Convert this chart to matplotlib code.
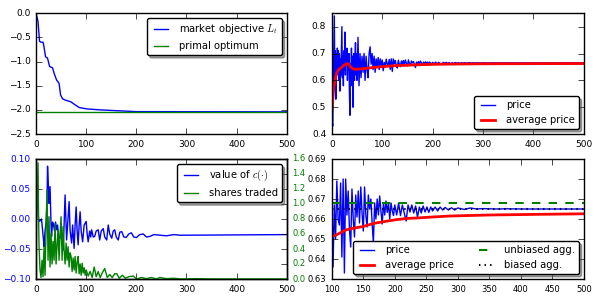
import matplotlib
matplotlib.use("Agg")
import matplotlib.pyplot as plt

plt.style.use("classic")
plt.rcParams["font.size"] = 7
plt.rcParams["xtick.labelsize"] = 6.5
plt.rcParams["ytick.labelsize"] = 6.5
plt.rcParams["legend.fontsize"] = 7.2

# market objective L_t (top left)
obj_t = [0, 1, 4, 7, 10, 14, 16, 19, 23, 27, 33, 36, 41, 46, 49, 53, 59, 69,
         76, 86, 102, 129, 169, 200, 500]
obj_v = [0.0, -0.035, -0.17, -0.58, -0.6, -0.6, -0.7, -0.9, -0.93, -1.10,
         -1.13, -1.24, -1.38, -1.45, -1.69, -1.77, -1.80, -1.83, -1.88, -1.95,
         -1.98, -2.0, -2.02, -2.035, -2.04]
primal_opt = -2.04

# price path (top right, bottom right)
price_t = list(range(0, 50)) + list(range(50, 202, 2)) + \
    [203, 206, 209, 212, 215, 218, 221, 224, 227, 230, 233, 236, 239, 242,
     245, 248, 251, 254, 257, 260, 264, 268, 272, 276, 280, 285, 290, 295,
     300, 310, 320, 330, 340, 360, 380, 400, 450, 500]
price_v = [
    0.56, 0.44, 0.43, 0.62, 0.72, 0.84, 0.60, 0.71, 0.53, 0.70,
    0.62, 0.72, 0.66, 0.71, 0.60, 0.70, 0.56, 0.68, 0.62, 0.72,
    0.80, 0.61, 0.69, 0.58, 0.71, 0.64, 0.78, 0.62, 0.70, 0.66,
    0.72, 0.60, 0.68, 0.64, 0.70, 0.55, 0.47, 0.66, 0.62, 0.72,
    0.58, 0.69, 0.50, 0.64, 0.70, 0.60, 0.68, 0.74, 0.62, 0.70,
    # 50..98 step 2
    0.60, 0.76, 0.58, 0.70, 0.61, 0.69, 0.63, 0.70, 0.60, 0.69,
    0.64, 0.61, 0.70, 0.725, 0.66, 0.70, 0.64, 0.69, 0.63, 0.68,
    0.65, 0.685, 0.64, 0.68, 0.655,
    # 100..200 step 2
    0.676, 0.636, 0.667, 0.650, 0.679, 0.660, 0.657, 0.678, 0.641, 0.680,
    0.633, 0.680, 0.662, 0.674, 0.655, 0.646, 0.675, 0.660, 0.651, 0.672,
    0.661, 0.674, 0.658, 0.676, 0.663, 0.654, 0.676, 0.662, 0.656, 0.672,
    0.665, 0.670, 0.658, 0.648, 0.668, 0.660, 0.670, 0.662, 0.6715, 0.664,
    0.6575, 0.668, 0.662, 0.669, 0.6633, 0.668, 0.660, 0.668, 0.664, 0.6617,
    0.667,
    # 203..500
    0.662, 0.668, 0.6617, 0.667, 0.663, 0.659, 0.667, 0.6635, 0.667, 0.663,
    0.6665, 0.661, 0.666, 0.663, 0.6665, 0.6635, 0.666, 0.6633, 0.666, 0.664,
    0.666, 0.664, 0.666, 0.6645, 0.6658, 0.6645, 0.6656, 0.6645, 0.6655,
    0.6648, 0.6655, 0.665, 0.6652, 0.665, 0.6651, 0.665, 0.665, 0.665]

avg_t = [0, 1, 2, 4, 6, 8, 10, 14, 19, 24, 29, 33, 37, 42, 47, 52, 60, 68,
         78, 88, 100, 110, 123, 136, 149, 160, 168, 185, 203, 220, 235, 260,
         288, 350, 420, 500]
avg_v = [0.49, 0.50, 0.53, 0.575, 0.594, 0.615, 0.628, 0.640, 0.648, 0.656,
         0.662, 0.661, 0.650, 0.643, 0.641, 0.642, 0.643, 0.645, 0.647, 0.649,
         0.651, 0.6525, 0.6546, 0.6555, 0.6562, 0.6572, 0.6579, 0.6588,
         0.6597, 0.6603, 0.6605, 0.661, 0.6615, 0.662, 0.6623, 0.6626]

unbiased_agg = 0.668
biased_agg = 0.665

# value of c(.) and shares traded (bottom left)
c_t = [0, 1, 3, 5, 7, 9, 11, 13, 15, 16, 18, 20, 22, 23, 25, 26, 28, 30, 31,
       33, 35, 37, 39, 41, 43, 45, 48, 50, 52, 54, 56, 58, 60, 61, 63, 66, 68,
       71, 73, 76, 78, 80, 82, 84, 86, 88, 90, 93, 96, 100, 102, 104, 107,
       109, 111, 114, 117, 120, 124, 127, 130, 134, 137, 141, 144, 147, 151,
       154, 157, 160, 164, 167, 171, 175, 180, 185, 190, 195, 200, 207, 214,
       220, 227, 235, 247, 260, 275, 287, 300, 500]
c_v = [0.098, 0.06, 0.032, 0.0, -0.004, -0.002, 0.0, -0.018, -0.035, -0.046,
       -0.02, -0.007, 0.03, 0.088, 0.05, 0.026, 0.054, -0.01, -0.029, -0.005,
       -0.01, -0.02, -0.005, -0.018, -0.01, -0.03, -0.032, -0.015, -0.04,
       -0.052, -0.01, 0.04, -0.01, -0.035, -0.01, 0.029, -0.02, -0.04, -0.01,
       -0.049, -0.01, 0.02, -0.02, -0.043, -0.01, 0.012, -0.02, -0.038,
       -0.01, -0.004, -0.025, -0.038, -0.02, -0.03, -0.018, -0.03, -0.029,
       -0.02, -0.018, -0.035, -0.02, -0.016, -0.03, -0.035, -0.01, -0.025,
       -0.032, -0.02, -0.018, -0.03, -0.035, -0.022, -0.021, -0.03, -0.0306,
       -0.025, -0.023, -0.03, -0.031, -0.026, -0.025, -0.03, -0.029, -0.026,
       -0.027, -0.028, -0.026, -0.027, -0.027, -0.026]

shares_t = [0, 1, 2, 4, 5, 6, 8, 10, 12, 14, 16, 18, 20, 22, 24, 26, 28, 30,
            32, 34, 36, 38, 40, 42, 44, 46, 48, 50, 52, 54, 56, 58, 60, 62,
            64, 66, 68, 70, 72, 74, 76, 78, 80, 82, 84, 86, 88, 90, 92, 94,
            96, 98, 100, 104, 108, 112, 116, 120, 124, 128, 132, 137, 142,
            147, 152, 157, 161, 166, 172, 178, 185, 194, 200, 210, 220, 230,
            240, 247, 260, 275, 290, 320, 350, 400, 500]
shares_v = [0.0, 0.75, 1.0, 1.55, 0.9, 0.45, 0.12, 0.02, 0.25, 0.03, 0.43,
            0.05, 0.65, 1.19, 0.25, 0.83, 0.16, 0.61, 0.2, 0.5, 0.25, 0.74,
            0.2, 0.45, 0.65, 0.25, 0.6, 0.83, 0.25, 0.7, 0.39, 0.2, 0.48,
            0.25, 0.43, 0.16, 0.35, 0.30, 0.10, 0.28, 0.12, 0.30, 0.08, 0.22,
            0.30, 0.07, 0.20, 0.05, 0.21, 0.08, 0.15, 0.05, 0.12, 0.04, 0.10,
            0.02, 0.16, 0.03, 0.10, 0.02, 0.08, 0.14, 0.02, 0.06, 0.02, 0.07,
            0.07, 0.01, 0.05, 0.01, 0.03, 0.04, 0.0, 0.02, 0.005, 0.02, 0.0,
            0.02, 0.005, 0.01, 0.0, 0.005, 0.0, 0.0, 0.0]

fig = plt.figure(figsize=(6, 3), dpi=100, facecolor="white")
ax_obj = fig.add_axes([0.06, 0.553, 0.418, 0.403])
ax_price = fig.add_axes([0.553, 0.553, 0.42, 0.403])
ax_c = fig.add_axes([0.06, 0.07, 0.418, 0.40])
ax_zoom = fig.add_axes([0.553, 0.07, 0.42, 0.40])

# top left
ax_obj.plot(obj_t, obj_v, "b-", lw=1, label="market objective $L_t$")
ax_obj.plot([0, 500], [primal_opt, primal_opt], "g-", lw=1,
            label="primal optimum")
ax_obj.set_xlim(0, 500)
ax_obj.set_ylim(-2.5, 0)
ax_obj.legend(loc="upper right", fancybox=True, shadow=True)

# top right
ax_price.plot(price_t, price_v, "b-", lw=1, label="price")
ax_price.plot(avg_t, avg_v, "r-", lw=2, label="average price")
ax_price.set_xlim(0, 500)
ax_price.set_ylim(0.4, 0.85)
ax_price.set_yticks([0.4, 0.5, 0.6, 0.7, 0.8])
ax_price.legend(loc="lower right", fancybox=True, shadow=True)

# bottom left, twin axes
ax_sh = ax_c.twinx()
l1, = ax_c.plot(c_t, c_v, "b-", lw=1, label="value of $c(\\cdot)$")
l2, = ax_sh.plot(shares_t, shares_v, "g-", lw=1, label="shares traded")
ax_c.set_xlim(0, 500)
ax_c.set_ylim(-0.10, 0.10)
ax_c.set_yticks([-0.10, -0.05, 0.0, 0.05, 0.10])
ax_sh.set_ylim(0, 1.6)
ax_sh.set_yticks([0.0, 0.2, 0.4, 0.6, 0.8, 1.0, 1.2, 1.4, 1.6])
ax_sh.tick_params(labelsize=6)
for lab in ax_c.get_yticklabels():
    lab.set_color("b")
for lab in ax_sh.get_yticklabels():
    lab.set_color("g")
ax_sh.legend([l1, l2], [l1.get_label(), l2.get_label()], loc="upper right",
             fancybox=True, shadow=True)

# bottom right
ax_zoom.plot(price_t, price_v, "b-", lw=1, label="price")
ax_zoom.plot(avg_t, avg_v, "r-", lw=2, label="average price")
ax_zoom.plot([100, 500], [unbiased_agg, unbiased_agg], "g--", lw=1.5,
             label="unbiased agg.")
ax_zoom.plot([100, 500], [biased_agg, biased_agg], "k:", lw=1.5,
             label="biased agg.")
ax_zoom.set_xlim(100, 500)
ax_zoom.set_ylim(0.63, 0.69)
ax_zoom.set_xticks(range(100, 501, 50))
ax_zoom.tick_params(labelsize=6)
ax_zoom.legend(loc="lower right", ncol=2, fancybox=True, shadow=True,
               columnspacing=2.2)

fig.savefig("out.png", dpi=100, facecolor="white")
